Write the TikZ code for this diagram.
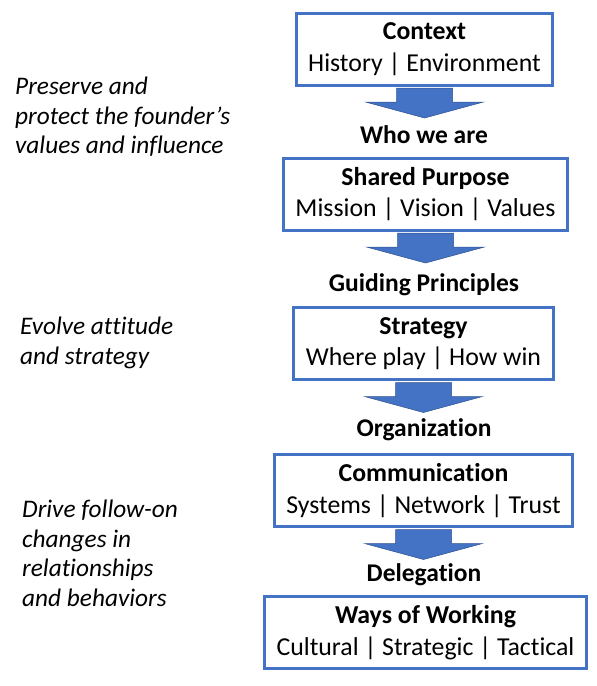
\documentclass[tikz,border=0pt]{standalone}
\usepackage{fontspec}
\setmainfont{Carlito}[RawFeature=-liga]
\definecolor{boxblue}{RGB}{68,114,196}
\definecolor{edgeblue}{RGB}{47,82,143}
\usepackage{tikz}

\begin{document}
\begin{tikzpicture}[x=1pt, y=-1pt,
  stage/.style={draw=boxblue, line width=3pt, fill=white, align=center,
    minimum height=72pt, inner sep=0pt, font=\fontsize{25.8}{31.5}\selectfont},
  link/.style={inner sep=0pt, font=\fontsize{25.5}{28}\selectfont\bfseries},
  note/.style={anchor=north west, align=left, inner sep=0pt,
    font=\fontsize{25.3}{29.5}\selectfont\itshape},
  bigarrow/.style={fill=boxblue, draw=edgeblue, line width=0.5pt}]
  \useasboundingbox (0,0) rectangle (597,686);
  %% Stages
  \node[stage, minimum width=256pt] (ctx)     at (424.5,49)  {\textbf{Context}\\History | Environment};
  \node[stage, minimum width=284pt] (purpose) at (425.5,194) {\textbf{Shared Purpose}\\Mission | Vision | Values};
  \node[stage, minimum width=260pt] (strat)   at (423.5,343.5) {\textbf{Strategy}\\Where play | How win};
  \node[stage, minimum width=298pt] (comm)    at (423.5,490.5) {\textbf{Communication}\\Systems | Network | Trust};
  \node[stage, minimum width=322pt] (ways)    at (425.5,632.5) {\textbf{Ways of Working}\\Cultural | Strategic | Tactical};
  %% Links between stages
  \node[link] (who)   at (424,135) {Who we are};
  \node[link] (guide) at (424,285) {Guiding Principles};
  \node[link] (org)   at (424,430) {Organization};
  \node[link] (deleg) at (424,575) {Delegation};
  %% Block arrows
  \foreach \b in {ctx,purpose,strat,comm}
    \draw[bigarrow] ([yshift=-1.5pt]\b.south) -- ++(-28,0) -- ++(0,14) -- ++(-31,0)
      -- ++(59,16) -- ++(59,-16) -- ++(-31,0) -- ++(0,-14) -- cycle;
  %% Side notes
  \node[note] (keep)   at (15,77)  {Preserve and\\protect the founder’s\\values and influence};
  \node[note] (evolve) at (20,317) {Evolve attitude\\and strategy};
  \node[note] (drive)  at (22,500) {Drive follow-on\\changes in\\relationships\\and behaviors};
\end{tikzpicture}
\end{document}
